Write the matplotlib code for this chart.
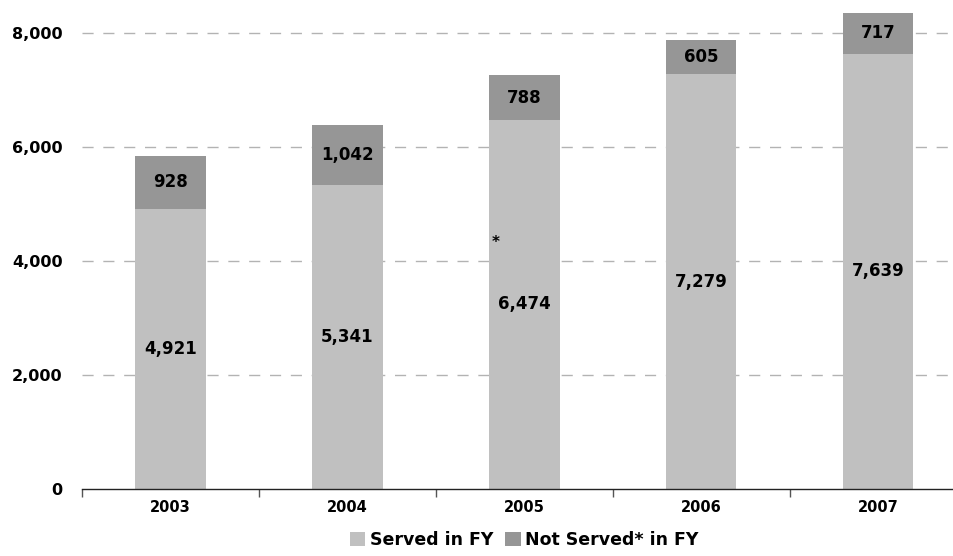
import matplotlib.pyplot as plt
import numpy as np

years = ['2003', '2004', '2005', '2006', '2007']
served = [4921, 5341, 6474, 7279, 7639]
not_served = [928, 1042, 788, 605, 717]

light = '#C0C0C0'
dark = '#969696'
plt.rcParams['font.family'] = ['DejaVu Sans']
plt.rcParams['font.weight'] = 'bold'

fig = plt.figure(figsize=(9.54, 5.56), dpi=100)
ax = fig.add_axes([82 / 954, 67 / 556, 1 - 82 / 954, 484.5 / 556])

x = np.arange(len(years))
b1 = ax.bar(x, served, width=0.4, color=light, label='Served in FY', zorder=2)
b2 = ax.bar(x, not_served, width=0.4, bottom=served, color=dark,
            label='Not Served* in FY', zorder=2)

# value labels in the middle of each segment
for i in range(len(years)):
    ax.text(x[i], served[i] / 2, f'{served[i]:,}', ha='center', va='center',
            fontsize=12, fontweight='bold', zorder=3)
    ax.text(x[i], served[i] + not_served[i] / 2, f'{not_served[i]:,}',
            ha='center', va='center', fontsize=12, fontweight='bold', zorder=3)

ax.text(1.836, 4330, '*', ha='center', va='center', fontsize=11,
        fontweight='bold', zorder=3)

ax.set_xlim(-0.5, 4.43)
ax.set_ylim(0, 8500)
ax.set_yticks([0, 2000, 4000, 6000, 8000])
ax.set_yticklabels([f'{v:,}' for v in [0, 2000, 4000, 6000, 8000]])
for v in [2000, 4000, 6000, 8000]:
    ax.axhline(v, color='#B3B3B3', linewidth=1, dashes=(8, 7), zorder=1)

ax.set_xticks(x)
ax.set_xticklabels(years)
ax.set_xticks(np.arange(-0.5, 4.5, 1.0), minor=True)
ax.tick_params(axis='x', which='major', length=0, pad=8, labelsize=10.5)
ax.tick_params(axis='x', which='minor', length=6, width=1, color='#555555',
               direction='out')
ax.tick_params(axis='y', length=0, pad=14, labelsize=11.5)

for s in ['top', 'right', 'left']:
    ax.spines[s].set_visible(False)
ax.spines['bottom'].set_color('#222222')
ax.spines['bottom'].set_linewidth(1)

fig.legend(handles=[b1, b2], loc='center', bbox_to_anchor=(524 / 954, 16 / 556),
           ncol=2, frameon=False, fontsize=12.5, handlelength=0.9,
           handleheight=0.9, handletextpad=0.25, columnspacing=0.7)

fig.savefig('out.png', dpi=100)
